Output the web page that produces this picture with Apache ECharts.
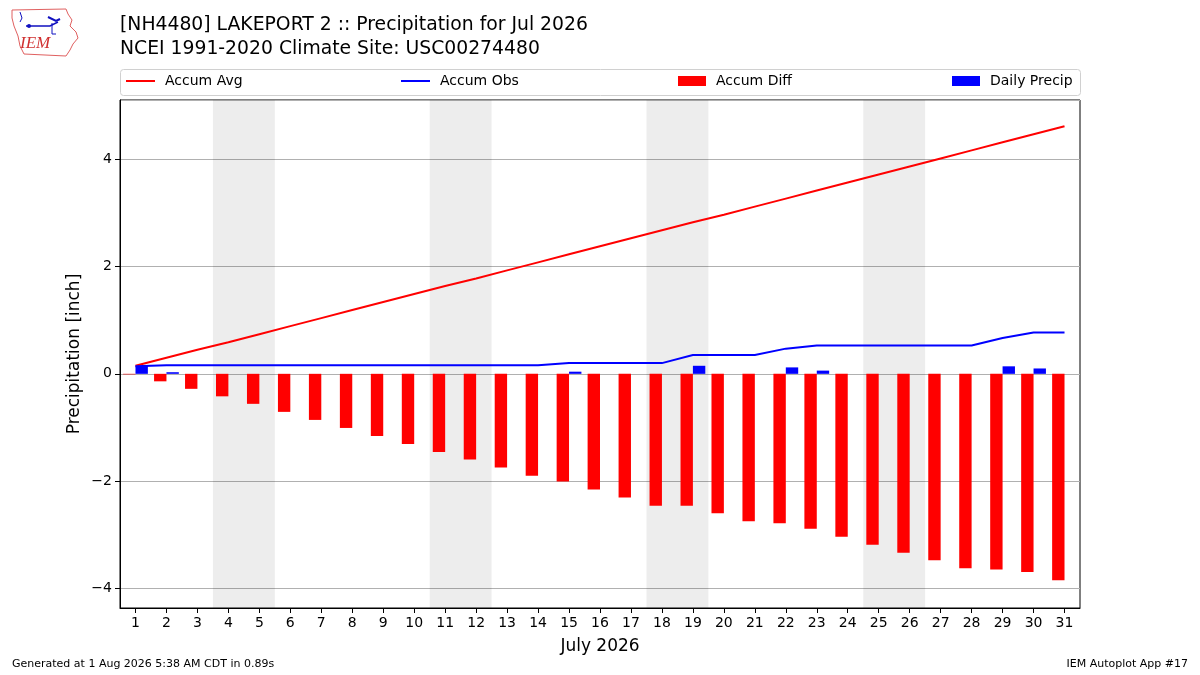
<!DOCTYPE html>
<html>
<head>
<meta charset="utf-8">
<script src="https://cdn.jsdelivr.net/npm/echarts@6/dist/echarts.min.js"></script>
<style>html,body{margin:0;padding:0;background:#fff;}#c{width:1200px;height:675px;}</style>
</head>
<body>
<div id="c"></div>
<script>
const days = ['1','2','3','4','5','6','7','8','9','10','11','12','13','14','15','16','17','18','19','20','21','22','23','24','25','26','27','28','29','30','31'];
const accumAvg = [0.15,0.30,0.45,0.59,0.74,0.89,1.04,1.19,1.34,1.49,1.64,1.78,1.93,2.08,2.23,2.38,2.53,2.68,2.83,2.97,3.12,3.27,3.42,3.57,3.72,3.87,4.02,4.17,4.32,4.47,4.62];
const accumObs = [0.14,0.16,0.16,0.16,0.16,0.16,0.16,0.16,0.16,0.16,0.16,0.16,0.16,0.16,0.20,0.20,0.20,0.20,0.35,0.35,0.35,0.47,0.53,0.53,0.53,0.53,0.53,0.53,0.67,0.77,0.77];
const accumDiff = [-0.01,-0.14,-0.28,-0.42,-0.56,-0.71,-0.86,-1.01,-1.16,-1.31,-1.46,-1.60,-1.75,-1.90,-2.01,-2.16,-2.31,-2.46,-2.46,-2.60,-2.75,-2.79,-2.89,-3.04,-3.19,-3.34,-3.48,-3.63,-3.65,-3.70,-3.85];
const dailyPrecip = [0.15,0.03,0,0,0,0,0,0,0,0,0,0,0,0,0.04,0,0,0,0.15,0,0,0.12,0.06,0,0,0,0,0,0.14,0.10,0];
const weekends = [[4,5],[11,12],[18,19],[25,26]];

const FONT = 'DejaVu Sans';
const chart = echarts.init(document.getElementById('c'), null, {renderer:'canvas'});

function legendAt(left, name, icon, w, h) {
  return {
    left: left, top: 69, orient: 'horizontal',
    data: [{name: name, icon: icon}],
    itemWidth: w, itemHeight: h,
    selectedMode: false,
    textStyle: {fontFamily: FONT, fontSize: 14, color: '#000', padding: [0,0,0,5]}
  };
}

const option = {
  backgroundColor: '#fff',
  animation: false,
  title: {
    text: '[NH4480] LAKEPORT 2 :: Precipitation for Jul 2026\nNCEI 1991-2020 Climate Site: USC00274480',
    left: 115, top: 8,
    textStyle: {fontFamily: FONT, fontSize: 18.8, fontWeight: 'normal', color: '#000', lineHeight: 24}
  },
  legend: [
    legendAt(121, 'Accum Avg', 'rect', 29, 2),
    legendAt(396, 'Accum Obs', 'rect', 29, 2),
    legendAt(673, 'Accum Diff', 'rect', 28, 10),
    legendAt(947, 'Daily Precip', 'rect', 28, 10)
  ],
  grid: {left: 120, right: 120, top: 100, bottom: 67, show: true, borderColor: '#000', borderWidth: 1, backgroundColor: 'transparent'},
  xAxis: [{
    type: 'category', data: days, boundaryGap: true,
    name: 'July 2026', nameLocation: 'middle', nameGap: 30,
    nameTextStyle: {fontFamily: FONT, fontSize: 17, color: '#000'},
    axisLine: {show: true, onZero: false, lineStyle: {color: '#000', width: 1}},
    axisTick: {show: true, alignWithLabel: true, inside: false, length: 5, lineStyle: {color: '#000'}},
    axisLabel: {interval: 0, fontFamily: FONT, fontSize: 14, color: '#000', margin: 8},
    splitLine: {show: false}
  }, {
    type: 'value', min: 0.5, max: 31.5, show: false
  }],
  yAxis: [{
    type: 'value', min: -4.37, max: 5.11,
    name: 'Precipitation [inch]', nameLocation: 'middle', nameGap: 37, nameMoveOverlap: false,
    nameTextStyle: {fontFamily: FONT, fontSize: 17, color: '#000'},
    axisLine: {show: true, onZero: false, lineStyle: {color: '#000', width: 1}},
    axisTick: {show: true, inside: false, length: 5, lineStyle: {color: '#000'}},
    axisLabel: {
      fontFamily: FONT, fontSize: 14, color: '#000', margin: 8,
      showMinLabel: false, showMaxLabel: false,
      formatter: function (v) {
        if (Math.abs(v - Math.round(v)) > 1e-6) return '';
        const r = Math.round(v);
        return r < 0 ? '\u2212' + Math.abs(r) : String(r);
      }
    },
    splitLine: {show: true, lineStyle: {color: '#b0b0b0', width: 1}}
  }],
  series: [
    {
      name: 'Weekend', type: 'custom', xAxisIndex: 1, yAxisIndex: 0, z: 1, silent: true,
      data: weekends,
      encode: {x: [0, 1]},
      renderItem: function (params, api) {
        const x0 = api.coord([api.value(0) - 0.5, 0])[0];
        const x1 = api.coord([api.value(1) + 0.5, 0])[0];
        const cs = params.coordSys;
        return {type: 'rect', shape: {x: x0, y: cs.y, width: x1 - x0, height: cs.height},
                style: {fill: 'rgba(0,0,0,0.072)'}};
      }
    },
    {
      name: 'Accum Diff', type: 'bar', data: accumDiff, barWidth: '40%', barGap: '0%',
      itemStyle: {color: '#ff0000'}, z: 3
    },
    {
      name: 'Daily Precip', type: 'bar', data: dailyPrecip, barWidth: '40%', barGap: '0%',
      itemStyle: {color: '#0000ff'}, z: 3
    },
    {
      name: 'Accum Avg', type: 'line', data: accumAvg, symbol: 'none',
      lineStyle: {color: '#ff0000', width: 2}, itemStyle: {color: '#ff0000'}, z: 4
    },
    {
      name: 'Accum Obs', type: 'line', data: accumObs, symbol: 'none',
      lineStyle: {color: '#0000ff', width: 2}, itemStyle: {color: '#0000ff'}, z: 4
    }
  ],
  graphic: [
    {type: 'rect', left: 120, top: 69, shape: {width: 960, height: 26, r: 3}, z: -1,
     style: {fill: '#fff', stroke: '#d0d0d0', lineWidth: 1}},
    {type: 'polyline', z: 10, shape: {points: [[12,10],[66,9],[68,14],[72,20],[70,26],[76,32],[78,38],[73,44],[70,50],[66,56],[24,54],[20,46],[18,36],[14,26],[12,18],[12,10]]},
     style: {stroke: '#e06060', fill: 'none', lineWidth: 1}},
    {type: 'polyline', z: 11, shape: {points: [[26,26],[50,26],[58,22]]}, style: {stroke: '#1010c0', lineWidth: 1.5, fill: 'none'}},
    {type: 'polyline', z: 11, shape: {points: [[48,17],[56,21],[60,19]]}, style: {stroke: '#1010c0', lineWidth: 2, fill: 'none'}},
    {type: 'polyline', z: 11, shape: {points: [[52,23],[52,34],[56,34]]}, style: {stroke: '#1010c0', lineWidth: 1, fill: 'none'}},
    {type: 'polyline', z: 11, shape: {points: [[20,12],[22,18],[20,22]]}, style: {stroke: '#1010c0', lineWidth: 1, fill: 'none'}},
    {type: 'circle', z: 11, shape: {cx: 29, cy: 26, r: 2}, style: {fill: '#1010c0'}},
    {type: 'text', z: 11, left: 20, top: 35, style: {text: 'IEM', font: 'italic 17px "Liberation Serif"', fill: '#d03030'}},
    {type: 'text', left: 12, top: 659, style: {text: 'Generated at 1 Aug 2026 5:38 AM CDT in 0.89s', font: '11px "DejaVu Sans"', fill: '#000'}},
    {type: 'text', right: 12, top: 659, style: {text: 'IEM Autoplot App #17', font: '11px "DejaVu Sans"', fill: '#000'}}
  ]
};
chart.setOption(option);
</script>
</body>
</html>
